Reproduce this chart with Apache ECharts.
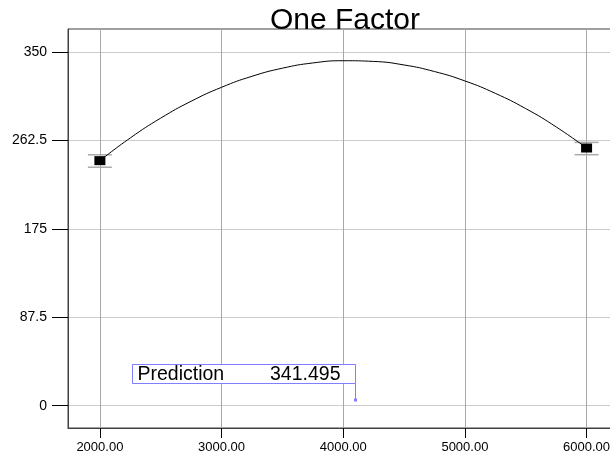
<!DOCTYPE html>
<html>
<head>
<meta charset="utf-8">
<script src="https://cdn.jsdelivr.net/npm/echarts@6/dist/echarts.min.js"></script>
<style>html,body{margin:0;padding:0;background:#fff}#c{width:610px;height:461px}</style>
</head>
<body>
<div id="c"></div>
<script>
const titleText = 'One Factor';
const xTicks = [2000, 3000, 4000, 5000, 6000];
const yTicks = [0, 87.5, 175, 262.5, 350];
const curveX = [2000, 2250, 2500, 2750, 3000, 3250, 3500, 3750, 4000, 4250, 4500, 4750, 5000, 5250, 5500, 5750, 6000];
const curveY = [242.5, 265.0, 284.6, 301.3, 315.1, 326.0, 334.0, 339.2, 341.4, 340.7, 337.2, 330.7, 321.4, 309.1, 294.0, 275.9, 255.0];
const pointX = [2000, 6000];
const pointY = [242.5, 255.0];
const errLow = [236.0, 248.4];
const errHigh = [248.3, 260.6];
const predLabel = 'Prediction';
const predValue = 341.495;
const predX = 4096;
const predY = 5.6;

const FONT = "'Liberation Sans', Arial, sans-serif";
const chart = echarts.init(document.getElementById('c'));
chart.setOption({
  animation: false,
  title: {
    text: titleText, left: 340, top: 1, textAlign: 'center',
    textStyle: { fontFamily: FONT, fontSize: 30, fontWeight: 'normal', color: '#000' }
  },
  grid: { left: 68, top: 29, width: 549, height: 399, outerBoundsMode: 'none', containLabel: false,
          show: true, borderColor: '#404040', borderWidth: 1 },
  xAxis: {
    type: 'value', min: 1738, max: 6250,
    axisLine: { onZero: false, lineStyle: { color: '#404040' } },
    axisTick: { show: true, customValues: xTicks, length: 10, lineStyle: { color: '#000' } },
    axisLabel: { customValues: xTicks, formatter: v => v.toFixed(2), fontFamily: FONT, fontSize: 13, color: '#000', margin: 13, hideOverlap: false },
    splitLine: { show: true, lineStyle: { color: '#a8a8a8', width: 1 } }
  },
  yAxis: {
    type: 'value', min: -22.1, max: 372.8,
    axisLine: { show: true, onZero: false, lineStyle: { color: '#404040' } },
    axisTick: { show: true, customValues: yTicks, length: 16, lineStyle: { color: '#000' } },
    axisLabel: { customValues: yTicks, fontFamily: FONT, fontSize: 14, color: '#000', margin: 21 },
    splitLine: { show: true, lineStyle: { color: '#cccccc', width: 1 } }
  },
  series: [
    {
      type: 'custom',
      data: pointX.map((x, i) => [x, errLow[i], errHigh[i]]),
      encode: { x: 0, y: [1, 2] },
      renderItem: function (params, api) {
        const lo = api.coord([api.value(0), api.value(1)]);
        const hi = api.coord([api.value(0), api.value(2)]);
        const style = { stroke: '#aaa', lineWidth: 1.5 };
        return { type: 'group', children: [
          { type: 'line', shape: { x1: lo[0] - 12, y1: lo[1], x2: lo[0] + 12, y2: lo[1] }, style },
          { type: 'line', shape: { x1: hi[0] - 12, y1: hi[1], x2: hi[0] + 12, y2: hi[1] }, style }
        ]};
      },
      z: 3
    },
    {
      type: 'line', data: curveX.map((x, i) => [x, curveY[i]]), smooth: true,
      showSymbol: false, lineStyle: { color: '#000', width: 1 }, z: 4
    },
    {
      type: 'scatter', data: pointX.map((x, i) => [x, pointY[i]]),
      symbol: 'rect', symbolSize: [11, 9], itemStyle: { color: '#000', opacity: 1 }, z: 5
    },
    {
      type: 'custom',
      data: [[predX, predY]],
      renderItem: function (params, api) {
        const p = api.coord([api.value(0), api.value(1)]);
        const x = Math.round(p[0]) + 0.5, y = p[1];
        const top = Math.round(y - 36) + 0.5, bot = Math.round(y - 17) + 0.5;
        const left = x - 223;
        return { type: 'group', children: [
          { type: 'rect', shape: { x: left, y: top, width: x - left, height: bot - top },
            style: { fill: '#fff', stroke: '#7f7fff', lineWidth: 1 } },
          { type: 'line', shape: { x1: x, y1: bot, x2: x, y2: y }, style: { stroke: '#7f7fff', lineWidth: 1 } },
          { type: 'rect', shape: { x: x - 1.5, y: y - 1.5, width: 3, height: 3 }, style: { fill: '#7f7fff' } },
          { type: 'text', x: left + 5, y: (top + bot) / 2 + 1,
            style: { text: predLabel, fontFamily: FONT, fontSize: 19.5, fill: '#000', verticalAlign: 'middle', align: 'left' } },
          { type: 'text', x: x - 15, y: (top + bot) / 2 + 1,
            style: { text: predValue.toFixed(3), fontFamily: FONT, fontSize: 19.5, fill: '#000', verticalAlign: 'middle', align: 'right' } }
        ]};
      },
      z: 6
    }
  ]
});
</script>
</body>
</html>
